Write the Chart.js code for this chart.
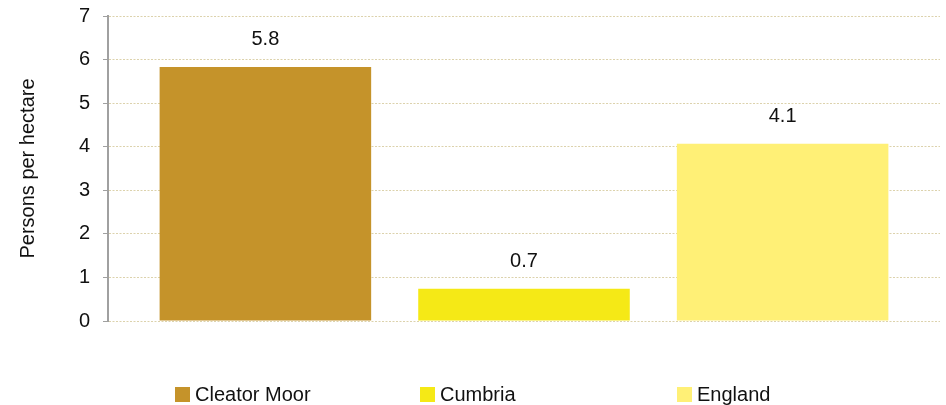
<!DOCTYPE html>
<html>
<head>
<meta charset="utf-8">
<script src="https://cdn.jsdelivr.net/npm/chart.js@4/dist/chart.umd.min.js"></script>
<style>
  html, body { margin: 0; padding: 0; background: #fff; }
  #wrap { width: 946px; height: 405px; }
</style>
</head>
<body>
<div id="wrap"><canvas id="chart"></canvas></div>
<script>
const areas = ['Cleator Moor', 'Cumbria', 'England'];
const density = [5.83, 0.74, 4.07];
const densityLabels = ['5.8', '0.7', '4.1'];
const colours = ['#C5932A', '#F5E916', '#FFF076'];
const yTicks = [0, 1, 2, 3, 4, 5, 6, 7];

const font = { family: '"Liberation Sans", Arial, sans-serif', size: 20 };

// value labels above each bar
const valueLabels = {
    id: 'valueLabels',
    afterDatasetsDraw(chart) {
        const ctx = chart.ctx;
        ctx.save();
        ctx.font = `${font.size}px ${font.family}`;
        ctx.fillStyle = '#111';
        ctx.textAlign = 'center';
        ctx.textBaseline = 'middle';
        chart.data.datasets.forEach((ds, i) => {
            const bar = chart.getDatasetMeta(i).data[0];
            ctx.fillText(densityLabels[i], bar.x, bar.y - 27);
        });
        ctx.restore();
    }
};

// legend spread out under the bars like the original
const spreadLegend = {
    id: 'spreadLegend',
    afterDraw(chart, args, opts) {
        const ctx = chart.ctx;
        ctx.save();
        ctx.font = `${font.size}px ${font.family}`;
        ctx.textBaseline = 'middle';
        chart.data.datasets.forEach((ds, i) => {
            const x = opts.x[i];
            ctx.fillStyle = ds.backgroundColor;
            ctx.fillRect(x, opts.y - 7, 15, 15);
            ctx.fillStyle = '#111';
            ctx.fillText(ds.label, x + 20, opts.y + 1);
        });
        ctx.restore();
    }
};

new Chart(document.getElementById('chart'), {
    type: 'bar',
    data: {
        labels: [''],
        datasets: areas.map((name, i) => ({
            label: name,
            data: [density[i]],
            backgroundColor: colours[i],
            categoryPercentage: 0.9325,
            barPercentage: 0.818
        }))
    },
    options: {
        responsive: true,
        maintainAspectRatio: false,
        animation: false,
        layout: { padding: { left: 0, right: 6, top: 16, bottom: 84 } },
        plugins: {
            legend: { display: false },
            tooltip: { enabled: false },
            spreadLegend: { x: [175, 420, 677], y: 394 }
        },
        scales: {
            x: { display: false },
            y: {
                min: 0,
                max: 7,
                afterBuildTicks: scale => { scale.ticks = yTicks.map(v => ({ value: v })); },
                afterFit: scale => {
                    scale.width = 108;
                    scale.paddingTop = 0;
                    scale.paddingBottom = 0;
                },
                ticks: { color: '#111', font, padding: 13 },
                grid: {
                    color: '#dcd2ac',
                    tickColor: '#a0a0a0',
                    tickLength: 5
                },
                border: { color: '#a0a0a0', width: 2, dash: [2, 1.5] },
                title: {
                    display: true,
                    text: 'Persons per hectare',
                    color: '#111',
                    font,
                    padding: { top: 16, bottom: 0 }
                }
            }
        }
    },
    plugins: [valueLabels, spreadLegend]
});
</script>
</body>
</html>
